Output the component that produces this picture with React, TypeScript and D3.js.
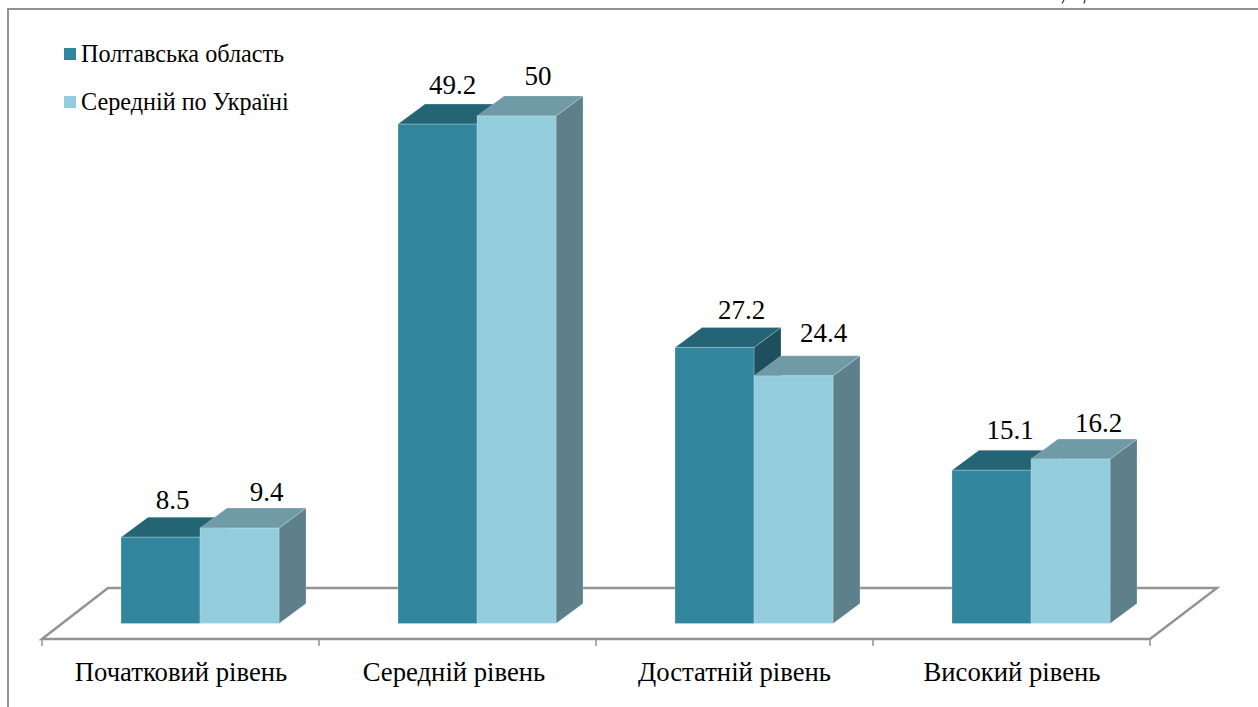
import React from "react";
import * as d3 from "d3";

const categories = ["Початковий рівень", "Середній рівень", "Достатній рівень", "Високий рівень"];
const seriesNames = ["Полтавська область", "Середній по Україні"];
const poltava = [8.5, 49.2, 27.2, 15.1];
const ukraine = [9.4, 50, 24.4, 16.2];
const seriesValues = [poltava, ukraine];
const frontColors = ["#31859c", "#93cddd"];
const topColors = ["#246575", "#6f9aa6"];
const sideColors = ["#1f4f5d", "#5d808a"];
// hand-placed data labels in the original chart: shift from each bar's centre / top edge
const labelShiftX = [[12, 15, 27, 18.5], [27, 21.5, 30, 28]];
const labelShiftY = [[-8, -10, -8, -11], [-7, -11, -14, -7]];
const categoryShiftX = [0.5, -3.5, 0, 0.5];

const W = 1258, H = 707;
const FONT = "'Liberation Serif', serif";
const dx = 27, dy = -20;
const x0 = d3.scaleBand<string>().domain(categories).range([42, 1150]);
const x1 = d3.scaleBand<string>().domain(seriesNames).range([0, x0.bandwidth()]).paddingInner(0).paddingOuter(0.753).align(0.664);
const y = d3.scaleLinear().domain([0, 50]).range([623.5, 116]);

const floorY = 639, backY = 588, grey = "#929292";
const edge = { stroke: "#ffffff", strokeOpacity: 0.22, strokeWidth: 1 };

export default function App() {
  const bw = x1.bandwidth();
  const base = y(0);
  return (
    <svg width={W} height={H} viewBox={`0 0 ${W} ${H}`} style={{ position: "absolute", left: 0, top: 0, display: "block", background: "#fff" }}>
      <path d={`M8 ${H}V9H${W}`} fill="none" stroke={grey} strokeWidth={2} />
      <path d="M1064 0L1062 3.5M1085 0L1084 3.5" fill="none" stroke="#333" strokeWidth={1.2} />
      <path d={`M42 ${floorY}L108 ${backY}H1217L1150 ${floorY}Z`} fill="#fff" stroke={grey} strokeWidth={2.4} />
      {[...categories.map((c) => x0(c)!), 1150].map((t, i) => (
        <line key={i} x1={t} x2={t} y1={floorY} y2={646} stroke={grey} strokeWidth={1.5} />
      ))}
      {categories.map((c, i) => (
        <g key={c}>
          {seriesNames.map((s, k) => {
            const v = seriesValues[k][i];
            const l = x0(c)! + x1(s)!;
            const r = l + bw;
            const t = y(v);
            return (
              <g key={s}>
                <path d={`M${r} ${base}L${r + dx} ${base + dy}V${t + dy}L${r} ${t}Z`} fill={sideColors[k]} {...edge} />
                <path d={`M${l} ${t}L${l + dx} ${t + dy}H${r + dx}L${r} ${t}Z`} fill={topColors[k]} {...edge} />
                <rect x={l} y={t} width={bw} height={base - t} fill={frontColors[k]} {...edge} />
              </g>
            );
          })}
          {seriesNames.map((s, k) => {
            const v = seriesValues[k][i];
            const l = x0(c)! + x1(s)!;
            return (
              <text key={s} x={l + bw / 2 + labelShiftX[k][i]} y={y(v) + dy + labelShiftY[k][i]} textAnchor="middle" fontFamily={FONT} fontSize={27} fill="#000">
                {v}
              </text>
            );
          })}
          <text x={x0(c)! + x0.bandwidth() / 2 + categoryShiftX[i]} y={680.5} textAnchor="middle" fontFamily={FONT} fontSize={26.7} fill="#000">
            {c}
          </text>
        </g>
      ))}
      {seriesNames.map((s, k) => (
        <g key={s} transform={`translate(64,${48 + k * 48})`}>
          <rect width={12} height={12} fill={frontColors[k]} />
          <text x={17} y={14} fontFamily={FONT} fontSize={24.2} fill="#000">{s}</text>
        </g>
      ))}
    </svg>
  );
}
